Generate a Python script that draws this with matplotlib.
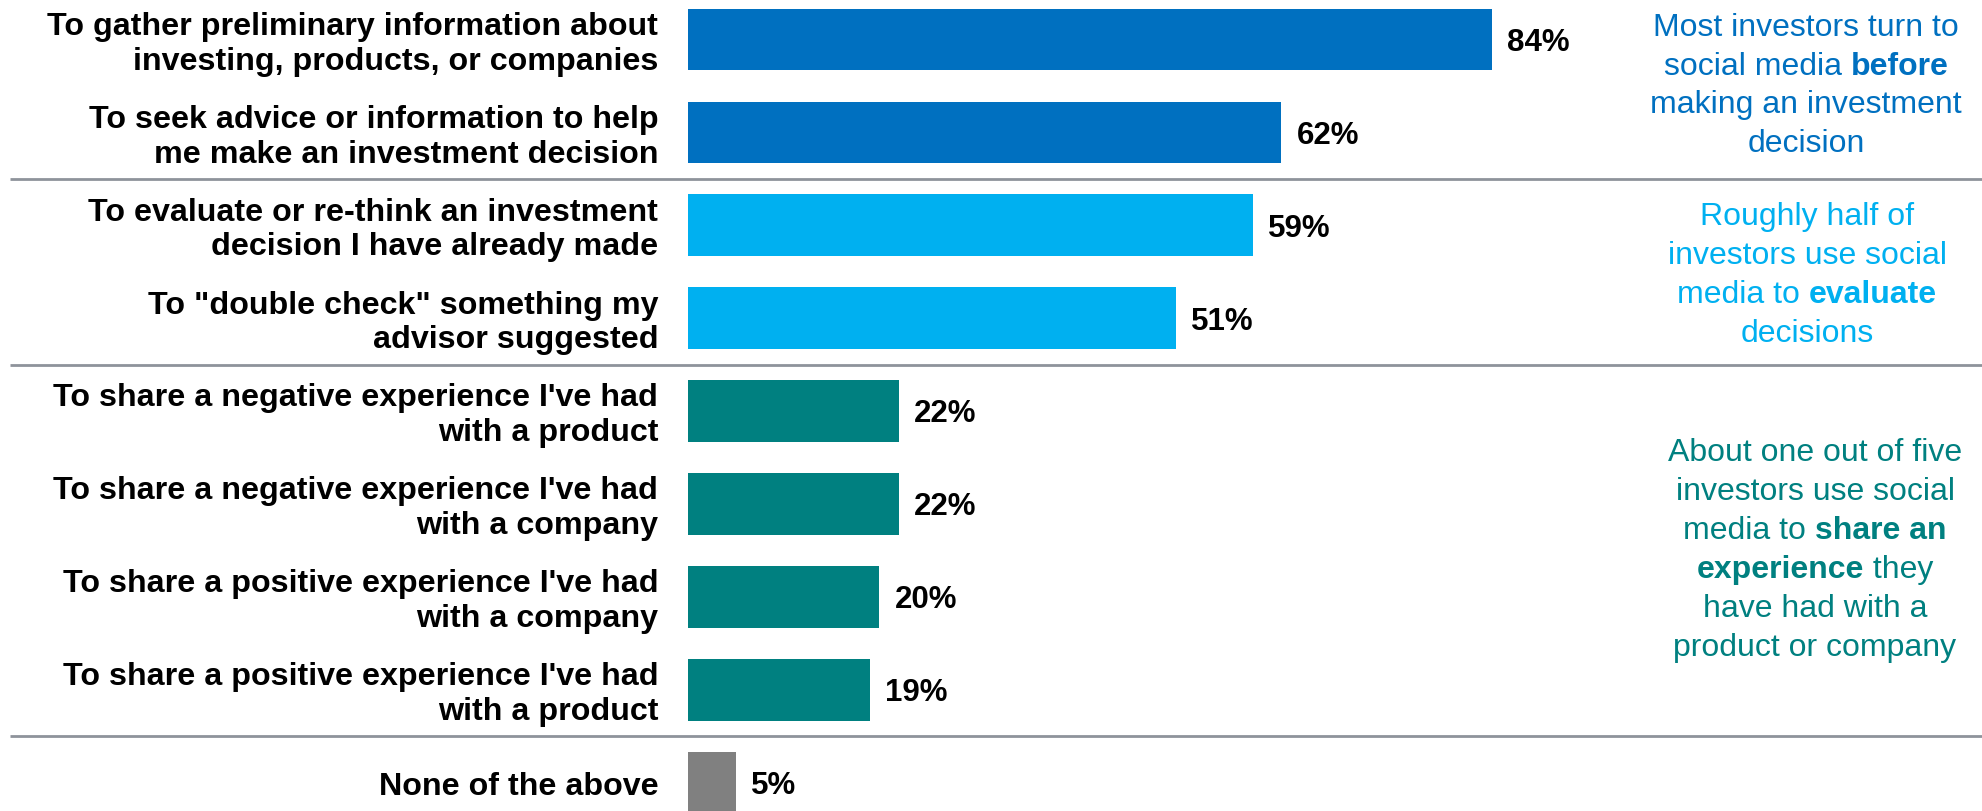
import matplotlib
matplotlib.use("Agg")
import matplotlib.pyplot as plt

plt.rcParams['font.family'] = ['Liberation Sans', 'DejaVu Sans']

categories = [
    "To gather preliminary information about\ninvesting, products, or companies",
    "To seek advice or information to help\nme make an investment decision",
    "To evaluate or re-think an investment\ndecision I have already made",
    "To \"double check\" something my\nadvisor suggested",
    "To share a negative experience I've had\nwith a product",
    "To share a negative experience I've had\nwith a company",
    "To share a positive experience I've had\nwith a company",
    "To share a positive experience I've had\nwith a product",
    "None of the above",
]
values = [84, 62, 59, 51, 22, 22, 20, 19, 5]
groups = [0, 0, 1, 1, 2, 2, 2, 2, 3]
group_colors = ["#0070C0", "#00B0F0", "#008080", "#808080"]

# Side notes: (row centre, x position in px, colour, lines of (text, bold) segments)
notes = [
    (0.49, 1806, "#0070C0", [
        [("Most investors turn to", False)],
        [("social media ", False), ("before", True)],
        [("making an investment", False)],
        [("decision", False)],
    ]),
    (2.53, 1807, "#00B0F0", [
        [("Roughly half of", False)],
        [("investors use social", False)],
        [("media to ", False), ("evaluate", True)],
        [("decisions", False)],
    ]),
    (5.49, 1815, "#008080", [
        [("About one out of five", False)],
        [("investors use social", False)],
        [("media to ", False), ("share an", True)],
        [("experience", True), (" they", False)],
        [("have had with a", False)],
        [("product or company", False)],
    ]),
]
separators = [1.5, 3.5, 7.5]

W, H, DPI = 1983, 812, 100
fig = plt.figure(figsize=(W / DPI, H / DPI), dpi=DPI)
ax = fig.add_axes([0, 0, 1, 1])
ax.axis("off")

px_per_unit_x = 9.57
x0_px = 688
xmin = -x0_px / px_per_unit_x
xmax = xmin + W / px_per_unit_x
ax.set_xlim(xmin, xmax)

row_px = 92.9
top_px = 40.5
ax.set_ylim((H - top_px) / row_px, -top_px / row_px)

FS_LABEL = 23.2
FS_VAL = 22.5
FS_NOTE = 23
bar_h = 0.665
for i, (cat, v, g) in enumerate(zip(categories, values, groups)):
    ax.barh(i, v, height=bar_h, color=group_colors[g], edgecolor="none")
    ax.text(v + 1.6, i + 0.025, f"{v}%", ha="left", va="center",
            fontsize=FS_VAL, fontweight="bold", color="black")
    ax.text(-3.1, i + 0.04, cat, ha="right", va="center", fontsize=FS_LABEL,
            fontweight="bold", color="black", linespacing=1.21)

for y in separators:
    ax.plot([xmin + 10 / px_per_unit_x, xmax], [y, y], color="#8E939B",
            lw=2, solid_capstyle="butt", clip_on=False)

# Centered multi-line notes with mixed weights
fig.canvas.draw()
renderer = fig.canvas.get_renderer()
line_gap = 38.9 / row_px
for yc, xc_px, color, lines in notes:
    note_x = xmin + xc_px / px_per_unit_x
    n = len(lines)
    for k, segs in enumerate(lines):
        y = yc + (k - (n - 1) / 2) * line_gap
        widths = []
        for txt, bold in segs:
            t = ax.text(0, 0, txt, fontsize=FS_NOTE,
                        fontweight="bold" if bold else "normal")
            widths.append(t.get_window_extent(renderer).width)
            t.remove()
        x = note_x - (sum(widths) / 2) / px_per_unit_x
        for (txt, bold), w in zip(segs, widths):
            ax.text(x, y, txt, ha="left", va="center", fontsize=FS_NOTE,
                    fontweight="bold" if bold else "normal", color=color)
            x += w / px_per_unit_x

fig.savefig("out.png", dpi=DPI)
